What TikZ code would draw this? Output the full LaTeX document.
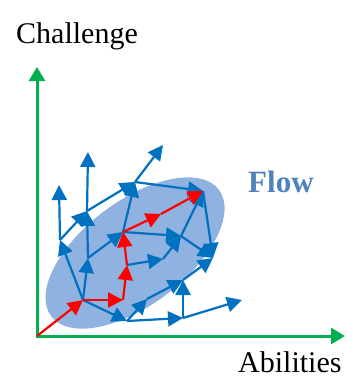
\documentclass[tikz,border=0pt]{standalone}
\usepackage{fontspec}
\setmainfont{Liberation Serif}
\usetikzlibrary{arrows.meta}
\definecolor{vecblue}{RGB}{0,112,192}
\definecolor{pathred}{RGB}{255,0,0}
\definecolor{axisgreen}{RGB}{0,176,80}
\definecolor{zone}{RGB}{143,178,224}
\definecolor{flowtext}{RGB}{79,129,189}

\begin{document}
\begin{tikzpicture}[
    x=1pt, y=-1pt,
    vec/.style={draw=vecblue, line width=2.2pt, -{Triangle[length=15pt, width=15pt]}},
    redvec/.style={draw=pathred, line width=2.2pt, -{Triangle[length=15pt, width=15pt]}},
    axis/.style={draw=axisgreen, line width=3pt, line join=miter,
        {Triangle[length=14pt, width=16pt]}-{Triangle[length=14pt, width=16pt]}},
    axlabel/.style={inner sep=0pt, anchor=base west, font=\fontsize{30}{36}\selectfont}
]
    \useasboundingbox (0,0) rectangle (353,378);

    % flow zone
    \coordinate (zc) at (135,253);
    \fill[zone, rotate around={37:(zc)}] (zc) ellipse [x radius=105, y radius=52];

    % axes
    \coordinate (o) at (37,336);
    \coordinate (ytip) at (37,67);
    \coordinate (xtip) at (345,336);
    \draw[axis] (ytip) |- (xtip);

    \node[axlabel] (chal) at (16,43) {Challenge};
    \node[axlabel] (abil) at (238,372) {Abilities};
    \node[axlabel, font=\fontsize{31}{36}\selectfont\bfseries, text=flowtext] (flow) at (248,192) {Flow};

    % red path
    \coordinate (p1) at (83,300);
    \coordinate (p2) at (123,300);
    \coordinate (p3) at (127,265);
    \coordinate (p4) at (123,232);
    \coordinate (p5) at (161,214);
    \coordinate (p6) at (203,191);

    % blue points
    \coordinate (a) at (60,240);
    \coordinate (atop) at (59,185);
    \coordinate (q1) at (88,258);
    \coordinate (b) at (87,211);
    \coordinate (qtop) at (88,152);
    \coordinate (c) at (135,182);
    \coordinate (d) at (163,145);
    \coordinate (e) at (181,236);
    \coordinate (i) at (163,259);
    \coordinate (g) at (213,258);
    \coordinate (k) at (127,321);
    \coordinate (k2) at (147,299);
    \coordinate (m) at (183,280);
    \coordinate (l) at (183,318);
    \coordinate (r) at (242,300);

    \draw[vec] (p1) -- (a);
    \draw[vec] (a) -- (atop);
    \draw[vec] (a) -- (b);
    \draw[vec] (b) -- (c);
    \draw[vec] (c) -- (d);
    \draw[vec] (p1) -- (q1);
    \draw[vec] (q1) -- (b);
    \draw[vec] (b) -- (qtop);
    \draw[vec] (q1) -- (p4);
    \draw[vec] (p4) -- (c);
    \draw[vec] (c) -- (p6);
    \draw[vec] (p4) -- (e);
    \draw[vec] (p3) -- (i);
    \draw[vec] (i) -- (e);
    \draw[vec] (e) -- (p6);
    \draw[vec] (e) -- (g);
    \draw[vec] (p6) -- (g);
    \draw[vec] (p1) -- (k);
    \draw[vec] (k) -- (k2);
    \draw[vec] (k2) -- (m);
    \draw[vec] (k) -- (l);
    \draw[vec] (l) -- (m);
    \draw[vec] (m) -- (g);
    \draw[vec] (l) -- (r);

    \draw[redvec] (o) -- (p1);
    \draw[redvec] (p1) -- (p2);
    \draw[redvec] (p2) -- (p3);
    \draw[redvec] (p3) -- (p4);
    \draw[redvec] (p4) -- (p5);
    \draw[redvec] (p5) -- (p6);
\end{tikzpicture}
\end{document}
